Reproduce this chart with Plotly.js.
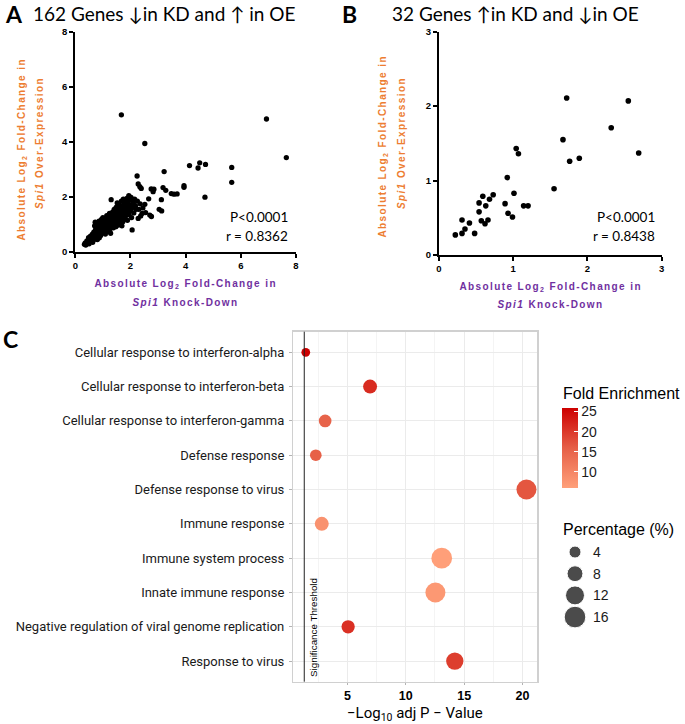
<!DOCTYPE html>
<html><head><meta charset="utf-8">
<script src="https://cdn.plot.ly/plotly-3.0.1.min.js"></script>
<style>html,body{margin:0;padding:0;background:#fff}#chart{width:685px;height:724px}</style>
</head><body><div id="chart"></div>
<script>
// ---------- Panel A: 162 genes down in KD and up in OE ----------
const kdA = [0.33,0.36,0.38,0.42,0.45,0.48,0.50,
0.52,0.55,0.57,0.60,0.62,0.63,0.65,0.67,0.68,0.70,0.70,
0.72,0.73,0.75,0.76,0.78,0.80,0.80,0.82,0.84,0.85,0.86,0.87,0.88,0.89,
0.90,0.91,0.92,0.94,0.95,0.96,0.98,0.99,1.00,1.01,1.02,1.04,1.05,1.06,1.08,1.09,
1.10,1.12,1.13,1.14,1.15,1.17,1.18,1.20,1.21,1.22,1.24,1.25,1.26,1.28,1.29,
1.30,1.31,1.32,1.34,1.35,1.36,1.38,1.40,1.41,1.42,1.44,1.45,1.47,1.48,1.49,
1.50,1.52,1.53,1.55,1.56,1.58,1.60,1.61,1.63,1.64,1.66,1.67,1.68,1.69,
1.71,1.72,1.74,1.75,1.77,1.78,1.80,1.82,1.83,1.85,1.87,1.88,1.89,
1.90,1.92,1.94,1.95,1.97,1.99,2.00,2.02,2.04,2.06,2.07,2.10,2.12,2.15,2.18,2.20,
1.67,2.52,6.93,7.65,5.67,5.67,4.70,4.14,4.45,4.51,4.72,3.94,3.94,3.22,2.24,2.28,2.34,2.39,2.75,2.82,2.85,
3.18,3.28,3.48,3.58,3.69,3.12,3.04,3.13,2.66,2.52,2.70,2.76,2.55,2.37,2.42,2.30,2.25,2.35,2.45,2.28];
const oeA = [0.28,0.33,0.25,0.40,0.35,0.52,0.30,
0.45,0.58,0.40,0.50,0.65,0.35,0.55,0.72,0.45,0.95,0.62,
1.08,0.80,0.55,0.68,0.88,0.45,1.02,0.75,0.62,0.95,1.12,0.52,0.82,0.70,
1.05,0.92,0.60,0.78,1.18,0.88,1.00,0.70,1.25,0.85,0.95,1.10,0.78,1.20,0.92,0.65,
1.05,0.85,1.15,1.32,0.98,0.75,1.08,1.25,0.90,1.00,1.40,0.82,1.15,0.68,1.05,
1.90,1.30,0.95,1.20,1.45,1.08,0.88,1.28,1.55,1.00,1.15,1.38,0.92,1.62,1.22,
1.05,1.78,1.45,1.30,0.98,1.55,1.15,1.70,1.38,1.02,1.48,1.85,1.25,0.95,
1.62,1.10,1.92,1.40,1.75,1.20,1.55,1.85,1.32,1.68,1.95,1.45,1.15,
1.78,1.60,2.05,1.35,1.88,1.70,1.50,1.98,1.25,0.80,1.62,1.80,1.42,1.92,1.68,1.55,
4.98,3.94,4.83,3.43,3.07,2.53,1.99,3.14,3.05,3.24,3.18,2.41,2.35,2.92,2.76,2.47,2.37,2.31,2.29,2.19,2.28,
2.34,2.24,2.12,2.10,2.11,1.90,1.55,1.49,1.93,1.73,1.34,1.29,1.43,1.31,1.40,1.55,1.85,1.75,1.60,1.22];
const statsA = ["P<0.0001", "r = 0.8362"];

// ---------- Panel B: 32 genes up in KD and down in OE ----------
const kdB = [0.22,0.31,0.31,0.35,0.41,0.48,0.54,0.54,0.59,0.57,0.62,0.63,0.66,0.68,0.73,0.89,
0.92,0.93,0.99,1.01,1.04,1.07,1.14,1.20,1.55,1.67,1.72,1.76,1.89,2.32,2.55,2.69];
const oeB = [0.27,0.29,0.47,0.35,0.43,0.29,0.70,0.58,0.79,0.46,0.42,0.66,0.47,0.75,0.81,0.69,
1.04,0.56,0.51,0.83,1.43,1.36,0.66,0.66,0.89,1.55,2.11,1.26,1.30,1.71,2.07,1.37];
const statsB = ["P<0.0001", "r = 0.8438"];

const ticksA = [0,2,4,6,8];
const ticksB = [0,1,2,3];

// ---------- Panel C: GO enrichment ----------
const terms = ["Cellular response to interferon-alpha","Cellular response to interferon-beta",
"Cellular response to interferon-gamma","Defense response","Defense response to virus",
"Immune response","Immune system process","Innate immune response",
"Negative regulation of viral genome replication","Response to virus"];
const negLog10AdjP = [1.43,6.94,3.09,2.29,20.34,2.80,13.08,12.54,5.06,14.20];
const foldEnrichment = [26.0,21.5,15.5,15.8,17.0,8.3,6.2,7.4,21.0,19.5];
const percentage = [1.5,5.9,4.6,3.7,13.5,5.9,14.5,13.5,5.2,9.8];
const significanceThreshold = 1.3;   // -log10(0.05)
const ticksC = [5,10,15,20];
const feTicks = [10,15,20,25];
const pctBreaks = [4,8,12,16];

// size scale (area-like, as ggplot scale_size)
const sizeScale = v => Math.sqrt(36 + 27*v);

const W = 685, H = 724;
const px = x => x / W, py = y => 1 - y / H;

const orange = '#ED7D31', purple = '#7030A0';
const axFontT = {family:'Liberation Sans', size:10, weight:700};
const tickBold = {family:'Liberation Sans', size:9.5, color:'#000', weight:700};

const traces = [
  {type:'scatter', mode:'markers', x:kdA, y:oeA, xaxis:'x', yaxis:'y',
   marker:{color:'#000', size:5.3}, cliponaxis:false, hoverinfo:'none'},
  {type:'scatter', mode:'markers', x:kdB, y:oeB, xaxis:'x2', yaxis:'y2',
   marker:{color:'#000', size:5.6}, cliponaxis:false, hoverinfo:'none'},
  {type:'scatter', mode:'markers', x:negLog10AdjP, y:terms, xaxis:'x3', yaxis:'y3',
   marker:{size:percentage.map(sizeScale), color:foldEnrichment, cmin:6.1, cmax:26, opacity:1,
     colorscale:[[0,'#FFA07A'],[0.5,'#E65F47'],[1,'#CD0000']], line:{width:0},
     colorbar:{x:px(562), xanchor:'left', xref:'paper', y:py(447.5), yanchor:'middle',
       len:80, lenmode:'pixels', thickness:16, thicknessmode:'pixels', xpad:0, ypad:0,
       outlinewidth:0, tickvals:feTicks, ticks:'inside', ticklen:4, tickcolor:'#fff',
       tickfont:{family:'Liberation Sans', size:14, color:'#1a1a1a'}}},
   cliponaxis:false, hoverinfo:'none'},
  {type:'scatter', mode:'markers', x:pctBreaks.map(()=>0.5), y:pctBreaks.map(String),
   xaxis:'x4', yaxis:'y4', marker:{color:'#000', size:pctBreaks.map(sizeScale)},
   cliponaxis:false, hoverinfo:'none'}
];

function scatterAxis(domain, range, ticks, anchor){
  return {domain:domain, range:range, tickvals:ticks, anchor:anchor, showgrid:false, zeroline:false,
    showline:true, linecolor:'#000', linewidth:2, ticks:'outside', ticklen:4, tickwidth:2,
    tickcolor:'#000', tickfont:tickBold, fixedrange:true};
}

const ann = [];
function t(text, x, y, opts){ ann.push(Object.assign({text:text, x:px(x), y:py(y), xref:'paper', yref:'paper',
  showarrow:false, xanchor:'center', yanchor:'middle'}, opts||{})); }

// Panel labels and titles
t('<b>A</b>', 3, 14, {xanchor:'left', font:{family:'Lato', size:23, color:'#000'}});
t('162 Genes \u2193in KD and \u2191 in OE', 31, 13, {xanchor:'left', font:{family:'Lato', size:19, color:'#000'}});
t('<b>B</b>', 340, 14, {xanchor:'left', font:{family:'Lato', size:23, color:'#000'}});
t('32 Genes \u2191in KD and \u2193in OE', 390, 13, {xanchor:'left', font:{family:'Lato', size:19, color:'#000'}});
t('<b>C</b>', 1, 339, {xanchor:'left', font:{family:'Lato', size:23, color:'#000'}});

// Axis titles A
t('Absolute Log<sub>2</sub> Fold-Change in', 185.6, 284, {font:Object.assign({color:purple}, axFontT)});
t('<i>Spi1</i> Knock-Down', 185.6, 302, {font:Object.assign({color:purple}, axFontT)});
t('Absolute Log<sub>2</sub> Fold-Change in', 22, 150, {textangle:-90, font:Object.assign({color:orange}, axFontT)});
t('<i>Spi1</i> Over-Expression', 40, 143, {textangle:-90, font:Object.assign({color:orange}, axFontT)});
// Axis titles B
t('Absolute Log<sub>2</sub> Fold-Change in', 550.5, 287, {font:Object.assign({color:purple}, axFontT)});
t('<i>Spi1</i> Knock-Down', 550.5, 304, {font:Object.assign({color:purple}, axFontT)});
t('Absolute Log<sub>2</sub> Fold-Change in', 383, 147, {textangle:-90, font:Object.assign({color:orange}, axFontT)});
t('<i>Spi1</i> Over-Expression', 402, 143, {textangle:-90, font:Object.assign({color:orange}, axFontT)});
// stats
const statFont = {family:'Lato', size:13.5, color:'#000'};
t(statsA[0], 290, 217, {xanchor:'right', font:statFont});
t(statsA[1], 290, 236, {xanchor:'right', font:statFont});
t(statsB[0], 657, 217, {xanchor:'right', font:statFont});
t(statsB[1], 657, 236, {xanchor:'right', font:statFont});

// Panel C texts
t('\u2212Log<sub>10</sub> adj P \u2212 Value', 415, 714, {font:{family:'Roboto', size:15, color:'#000'}});
t('Fold Enrichment', 561, 393, {xanchor:'left', font:{family:'Liberation Sans', size:16, color:'#000'}});
t('Percentage (%)', 561, 529, {xanchor:'left', font:{family:'Liberation Sans', size:16, color:'#000'}});
ann.push({text:'Significance Threshold', x:significanceThreshold, xref:'x3', y:0, yref:'y3 domain',
  xanchor:'left', yanchor:'bottom', xshift:1, yshift:3, textangle:-90, showarrow:false,
  font:{family:'Liberation Sans', size:9.8, color:'#000'}});

const layout = {
  width:W, height:H, margin:{l:0,r:0,t:0,b:0}, paper_bgcolor:'#fff', plot_bgcolor:'rgba(0,0,0,0)',
  showlegend:false, font:{family:'Liberation Sans'},
  xaxis: scatterAxis([px(75.3), px(296)], [0,8], ticksA, 'y'),
  yaxis: scatterAxis([py(252), py(31.7)], [0,8], ticksA, 'x'),
  xaxis2: scatterAxis([px(439), px(661.7)], [0,3], ticksB, 'y2'),
  yaxis2: scatterAxis([py(255), py(31.7)], [0,3], ticksB, 'x2'),
  xaxis3: {domain:[px(293.4), px(537.3)], range:[0.37, 21.27], anchor:'y3', tickvals:ticksC,
    showgrid:true, gridcolor:'#EBEBEB', gridwidth:1, zeroline:false,
    minor:{tickvals:[2.5,7.5,12.5,17.5], showgrid:true, gridcolor:'#F4F4F4', gridwidth:1},
    showline:true, mirror:true, linecolor:'#D0D0D0', linewidth:1.5,
    ticks:'outside', ticklen:2, tickcolor:'#B3B3B3', ticklabelstandoff:0,
    tickfont:{family:'Liberation Sans', size:12.5, color:'#000', weight:700}, fixedrange:true},
  yaxis3: {domain:[py(681.7), py(331.7)], type:'category', categoryarray:terms, categoryorder:'array',
    range:[9.6, -0.6], anchor:'x3', showgrid:true, gridcolor:'#EBEBEB', gridwidth:1, zeroline:false,
    showline:true, mirror:true, linecolor:'#D0D0D0', linewidth:1.5,
    ticks:'outside', ticklen:3, tickcolor:'#B3B3B3', ticklabelstandoff:2,
    tickfont:{family:'Roboto', size:13, color:'#1a1a1a'}, fixedrange:true},
  xaxis4: {domain:[px(565), px(585)], range:[0,1], anchor:'y4', visible:false, fixedrange:true},
  yaxis4: {domain:[py(627.9), py(541.2)], type:'category', categoryarray:pctBreaks.map(String),
    range:[3.5,-0.5], anchor:'x4', side:'right', showgrid:false, zeroline:false, showline:false,
    ticks:'', ticklabelstandoff:7, tickfont:{family:'Liberation Sans', size:14, color:'#1a1a1a'}, fixedrange:true},
  shapes:[{type:'line', xref:'x3', yref:'y3 domain', x0:significanceThreshold, x1:significanceThreshold,
    y0:0, y1:1, line:{color:'#222', width:1}}],
  annotations: ann
};

Plotly.newPlot('chart', traces, layout, {staticPlot:true, displayModeBar:false}).then(gd => {
  // Prism-style letter-spaced axis titles
  gd.querySelectorAll('g.annotation text').forEach(el => {
    const s = el.textContent;
    if (s.indexOf('Absolute') === 0 || s.indexOf('Spi1') === 0) el.style.letterSpacing = '1.4px';
  });
  // drop empty placeholder title nodes
  gd.querySelectorAll('text').forEach(el => { if (!el.textContent.trim()) el.remove(); });
});
</script>
</body></html>
